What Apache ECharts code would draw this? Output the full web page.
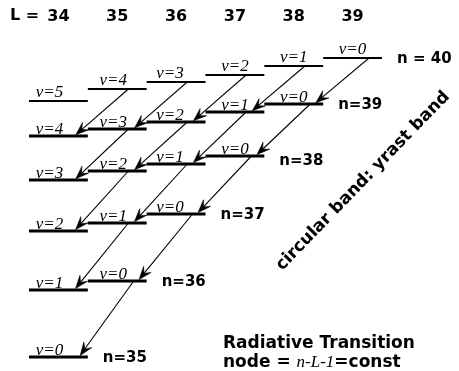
<!DOCTYPE html>
<html><head><meta charset="utf-8">
<script src="https://cdn.jsdelivr.net/npm/echarts@6/dist/echarts.min.js"></script>
<style>html,body{margin:0;padding:0;background:#fff}#chart{width:459px;height:371px}</style>
</head><body><div id="chart"></div>
<script>
// Angular momentum columns and principal quantum number rows
const angularMomentum = [34, 35, 36, 37, 38, 39];
const principalN = [40, 39, 38, 37, 36, 35];
const rowLabels = ['n = 40', 'n=39', 'n=38', 'n=37', 'n=36', 'n=35'];
// Level energies (arbitrary units); index 0 is L = 34
const energyN40 = [299, 311, 318, 325, 334, 342];
const energyN39 = [264, 271, 278, 288, 296];
const energyN38 = [220, 229, 236, 244];
const energyN37 = [169, 177, 186];
const energyN36 = [110, 119];
const energyN35 = [43];
const energyRows = [energyN40, energyN39, energyN38, energyN37, energyN36, energyN35];

// style: small horizontal nudge of the v-labels per column (px)
const labelShiftPx = [-9, -4, -6, 0, 0, 0];
const FONT_SANS = '"DejaVu Sans"';
const FONT_SERIF = '"Liberation Serif"';

// [L, E, n, v, rowIndex, isLastInRow, column]
const levels = [];
principalN.forEach((n, i) => {
  energyRows[i].forEach((E, j) => {
    const L = angularMomentum[j];
    levels.push([L, E, n, n - L - 1, i, j === energyRows[i].length - 1 ? 1 : 0, j]);
  });
});

// radiative transitions (n, L) -> (n-1, L-1): [Lfrom, Efrom, Lto, Eto, v]
const transitions = [];
principalN.forEach((n, i) => {
  if (i === principalN.length - 1) return;
  energyRows[i].forEach((E, j) => {
    if (j === 0) return;
    const L = angularMomentum[j];
    transitions.push([L, E, angularMomentum[j - 1], energyRows[i + 1][j - 1], n - L - 1]);
  });
});

function renderLevel(params, api) {
  const L = api.value(0), E = api.value(1), n = api.value(2), v = api.value(3);
  const row = api.value(4), last = api.value(5), col = api.value(6);
  const a = api.coord([L - 0.5, E]);
  const b = api.coord([L + 0.5, E]);
  const children = [
    { type: 'line', shape: { x1: a[0], y1: a[1], x2: b[0], y2: b[1] },
      style: { stroke: '#000', lineWidth: n === 40 ? 2 : 3 } },
    { type: 'text', x: (a[0] + b[0]) / 2 + labelShiftPx[col], y: a[1] + (n === 40 ? 0 : 2),
      style: { text: 'v=' + v, fontStyle: 'italic', fontSize: 17, fontFamily: FONT_SERIF,
               fill: '#000', align: 'center', verticalAlign: 'bottom' } }
  ];
  if (last) {
    children.push({ type: 'text', x: b[0] + 15, y: a[1] + (n === 38 ? 5 : 1),
      style: { text: rowLabels[row], fontWeight: 'bold', fontSize: 15, fontFamily: FONT_SANS,
               fill: '#000', align: 'left', verticalAlign: 'middle' } });
  }
  return { type: 'group', children };
}

function renderTransition(params, api) {
  const v = api.value(4);
  const startOff = v === 0 ? 0.28 : 0.19;
  const endOff = v === 0 ? 0.35 : 0.27;
  const p0 = api.coord([api.value(0) + startOff, api.value(1)]);
  const p1 = api.coord([api.value(2) + endOff, api.value(3)]);
  let dx = p1[0] - p0[0], dy = p1[1] - p0[1];
  const len = Math.sqrt(dx * dx + dy * dy);
  dx /= len; dy /= len;
  const tip = [p1[0] - dx * 2, p1[1] - dy * 2];
  const headLen = 13, half = 4.8;
  const px = -dy, py = dx;
  const back = [tip[0] - dx * headLen, tip[1] - dy * headLen];
  const inner = [tip[0] - dx * headLen * 0.6, tip[1] - dy * headLen * 0.6];
  return {
    type: 'group',
    children: [
      { type: 'line', shape: { x1: p0[0], y1: p0[1], x2: inner[0], y2: inner[1] },
        style: { stroke: '#000', lineWidth: 1.1 } },
      { type: 'polygon', shape: { points: [
          tip,
          [back[0] + px * half, back[1] + py * half],
          inner,
          [back[0] - px * half, back[1] - py * half]
        ] }, style: { fill: '#000', stroke: '#000', lineWidth: 0.6 } }
    ]
  };
}

const chart = echarts.init(document.getElementById('chart'), null, { renderer: 'canvas' });
chart.setOption({
  animation: false,
  backgroundColor: '#fff',
  grid: { left: 29, right: 77, top: 40, bottom: 0 },
  xAxis: {
    type: 'value', position: 'top', min: 33.5, max: 39.5,
    axisLine: { show: false }, axisTick: { show: false }, splitLine: { show: false },
    axisLabel: {
      customValues: angularMomentum,
      color: '#000', fontFamily: FONT_SANS, fontWeight: 'bold', fontSize: 16, margin: 15
    }
  },
  yAxis: { type: 'value', min: 29, max: 360, show: false },
  series: [
    { type: 'custom', renderItem: renderTransition, data: transitions, z: 2 },
    { type: 'custom', renderItem: renderLevel, data: levels, z: 3 }
  ],
  graphic: [
    { type: 'text', x: 10, y: 16,
      style: { text: 'L =', fontWeight: 'bold', fontSize: 16, fontFamily: FONT_SANS, fill: '#000',
               align: 'left', verticalAlign: 'middle' } },
    { type: 'text', x: 363, y: 181, rotation: 46 * Math.PI / 180,
      style: { text: 'circular band: yrast band', fontWeight: 'bold', fontSize: 17,
               fontFamily: FONT_SANS, fill: '#000', align: 'center', verticalAlign: 'middle' } },
    { type: 'text', x: 223, y: 344,
      style: { text: 'Radiative Transition', fontWeight: 'bold', fontSize: 17,
               fontFamily: FONT_SANS, fill: '#000', align: 'left', verticalAlign: 'middle' } },
    { type: 'text', x: 223, y: 363,
      style: { text: '{b|node = }{i|n-L-1}{b|=const}', align: 'left', verticalAlign: 'middle',
               rich: {
                 b: { fontWeight: 'bold', fontSize: 17, fontFamily: FONT_SANS, color: '#000' },
                 i: { fontStyle: 'italic', fontSize: 17, fontFamily: FONT_SERIF, color: '#000' }
               } } }
  ]
});
</script>
</body></html>
